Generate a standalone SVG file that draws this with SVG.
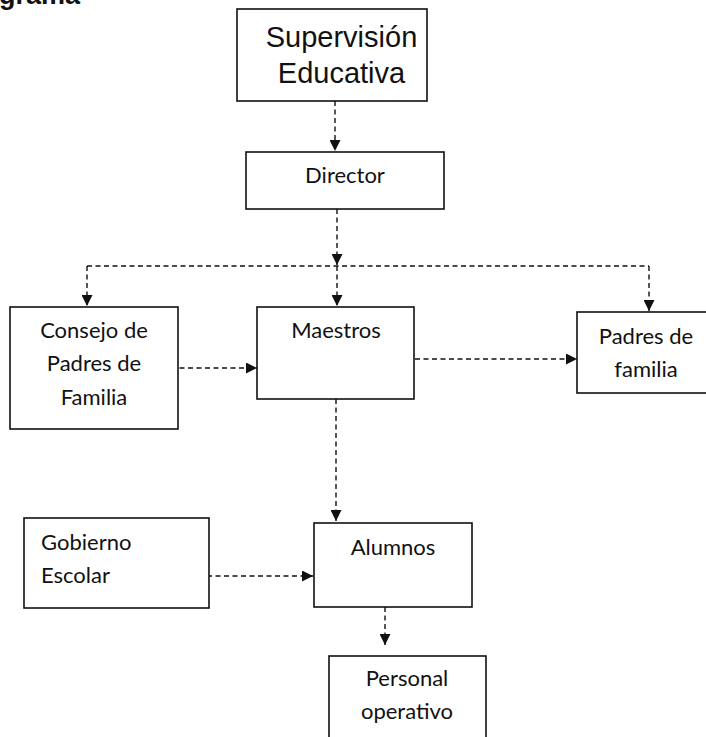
<svg xmlns="http://www.w3.org/2000/svg" width="706" height="737" viewBox="0 0 706 737">
<style>
.box{fill:#fff;stroke:#111;stroke-width:1.6}
.t{font-family:Lato,"Liberation Sans",sans-serif;font-size:22px;fill:#111}
.c{text-anchor:middle}
.big{font-family:"Liberation Sans",Arial,sans-serif;font-size:29px;fill:#111;text-anchor:middle}
.title{font-family:"Liberation Sans",Arial,sans-serif;font-size:27px;font-weight:bold;fill:#111}
.ln{fill:none;stroke:#111;stroke-width:1.4;stroke-dasharray:5 3.5}
</style>
<defs>
<marker id="ah" viewBox="0 0 10 10" refX="10" refY="5" markerWidth="11" markerHeight="11" markerUnits="userSpaceOnUse" orient="auto">
<path d="M0,0 L10,5 L0,10 z" fill="#111"/>
</marker>
</defs>
<rect width="706" height="737" fill="#fff"/>
<text class="title" x="-1" y="4">grama</text>
<g id="connectors">
<path class="ln" d="M335,101 V151" marker-end="url(#ah)"/>
<path class="ln" d="M337,209 V265" marker-end="url(#ah)"/>
<path class="ln" d="M87,266 H649"/>
<path class="ln" d="M87,266 V306" marker-end="url(#ah)"/>
<path class="ln" d="M337,266 V306" marker-end="url(#ah)"/>
<path class="ln" d="M649,266 V311" marker-end="url(#ah)"/>
<path class="ln" d="M171,368 H257" marker-end="url(#ah)"/>
<path class="ln" d="M415,359 H577" marker-end="url(#ah)"/>
<path class="ln" d="M336,399 V521" marker-end="url(#ah)"/>
<path class="ln" d="M207,576 H313" marker-end="url(#ah)"/>
<path class="ln" d="M385,607 V645" marker-end="url(#ah)"/>
</g>
<g id="supervision">
<rect class="box" x="237" y="9" width="190" height="92"/>
<text class="big" x="341.5" y="47">Supervisión</text>
<text class="big" x="341.5" y="83">Educativa</text>
</g>
<g id="director">
<rect class="box" x="246" y="152" width="198" height="57"/>
<text class="t c" x="345" y="183">Director</text>
</g>
<g id="consejo">
<rect class="box" x="10" y="307" width="168" height="122"/>
<text class="t c" x="94" y="338">Consejo de</text>
<text class="t c" x="94" y="371">Padres de</text>
<text class="t c" x="94" y="405">Familia</text>
</g>
<g id="maestros">
<rect class="box" x="257" y="307" width="157" height="92"/>
<text class="t c" x="336" y="338">Maestros</text>
</g>
<g id="padres">
<rect class="box" x="577" y="312" width="140" height="81"/>
<text class="t c" x="646" y="344">Padres de</text>
<text class="t c" x="646" y="377">familia</text>
</g>
<g id="gobierno">
<rect class="box" x="24" y="518" width="185" height="90"/>
<text class="t" x="41" y="550">Gobierno</text>
<text class="t" x="41" y="583">Escolar</text>
</g>
<g id="alumnos">
<rect class="box" x="314" y="523" width="158" height="84"/>
<text class="t c" x="393" y="555">Alumnos</text>
</g>
<g id="personal">
<rect class="box" x="329" y="656" width="157" height="90"/>
<text class="t c" x="407" y="686">Personal</text>
<text class="t c" x="407" y="719">operativo</text>
</g>
</svg>
